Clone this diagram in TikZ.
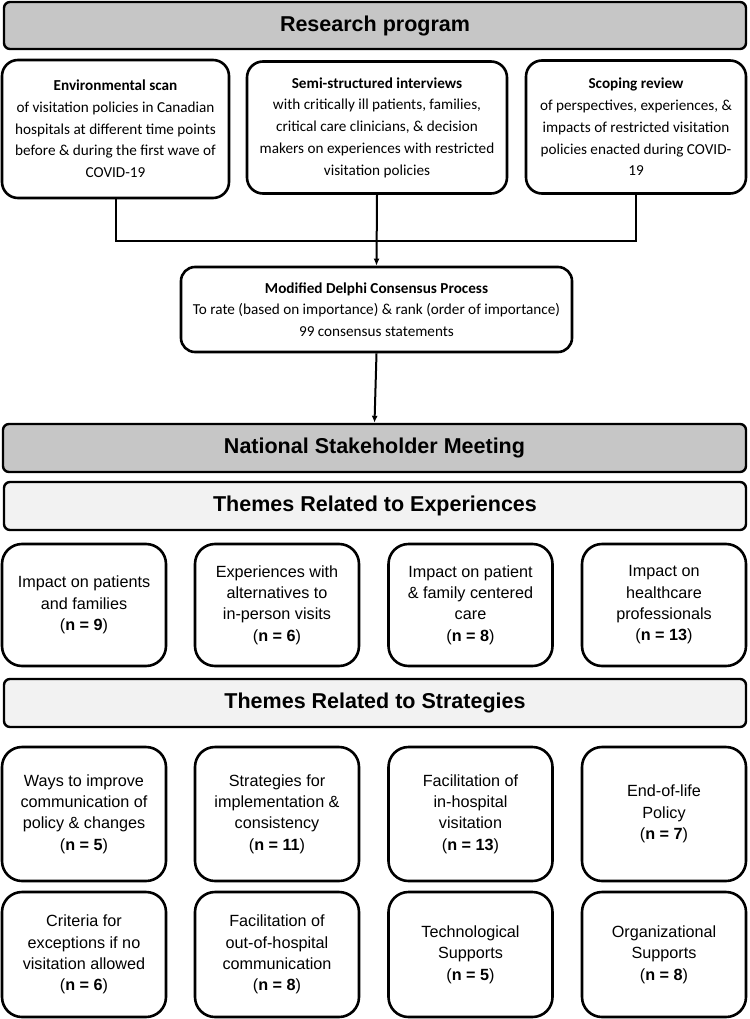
\documentclass[tikz,border=0pt]{standalone}
\usepackage{fontspec}
\setmainfont{Liberation Sans}
\newfontfamily\carlitofont{Carlito}
\usetikzlibrary{arrows.meta}
\definecolor{hdrgray}{RGB}{198,198,198}
\definecolor{lightgray}{RGB}{242,242,242}
\tikzset{
  hdr/.style={draw, line width=2.4pt, rounded corners=6pt, fill=hdrgray, font=\bfseries\fontsize{21.5}{24}\selectfont, inner sep=0pt},
  subhdr/.style={hdr, fill=lightgray},
  topbox/.style={draw, line width=2.6pt, rounded corners=16pt, fill=white, align=center, font=\carlitofont\fontsize{15.2}{21.7}\selectfont, inner sep=0pt},
  theme/.style={draw, line width=2.6pt, rounded corners=20pt, fill=white, align=center, font=\fontsize{16.2}{21.3}\selectfont, inner sep=0pt, minimum width=164pt},
  conn/.style={line width=2pt},
  arr/.style={line width=2pt, -{Latex[length=7pt,width=6pt]}},
}
\newcommand{\nn}[1]{(\textbf{n = #1})}
\begin{document}
\begin{tikzpicture}[x=1pt,y=-1pt]
\useasboundingbox (0,0) rectangle (749,1019);
\node[hdr, minimum width=742pt, minimum height=47pt] (rp) at (375,25.5) {Research program};

\node[topbox, minimum width=227pt, minimum height=138pt] (env) at (115.5,129) {\textbf{Environmental scan}\\of visitation policies in Canadian\\hospitals at different time points\\before \& during the first wave of\\COVID-19};
\node[topbox, minimum width=260pt, minimum height=132pt] (semi) at (377,127.5) {\textbf{Semi-structured interviews}\\with critically ill patients, families,\\critical care clinicians, \& decision\\makers on experiences with restricted\\visitation policies};
\node[topbox, minimum width=220pt, minimum height=133pt] (scop) at (636,127) {\textbf{Scoping review}\\of perspectives, experiences, \&\\impacts of restricted visitation\\policies enacted during COVID-\\19};

\node[topbox, rounded corners=14pt, minimum width=391pt, minimum height=85pt] (delphi) at (376.5,309.5) {\textbf{Modified Delphi Consensus Process}\\To rate (based on importance) \& rank (order of importance)\\99 consensus statements};

\draw[conn] (env.south) -- ++(0,42) -| (scop.south);
\draw[arr] (semi.south) -- (delphi.north);

\node[hdr, minimum width=743pt, minimum height=48pt] (nsm) at (374.5,448) {National Stakeholder Meeting};
\draw[arr] (delphi.south) -- (nsm.north);

\node[subhdr, minimum width=742pt, minimum height=48pt] (texp) at (375,506) {Themes Related to Experiences};

\node[theme, minimum height=122pt] (e1) at (84,605) {Impact on patients\\and families\\\nn{9}};
\node[theme, minimum height=122pt] (e2) at (277,605) {Experiences with\\alternatives to\\in-person visits\\\nn{6}};
\node[theme, minimum height=122pt] (e3) at (470.5,605) {Impact on patient\\\& family centered\\care\\\nn{8}};
\node[theme, minimum height=122pt] (e4) at (664,605) {Impact on\\healthcare\\professionals\\\nn{13}};

\node[subhdr, minimum width=742pt, minimum height=48pt] (tstr) at (375,703) {Themes Related to Strategies};

\node[theme, minimum height=134pt] (s1) at (84,814) {Ways to improve\\communication of\\policy \& changes\\\nn{5}};
\node[theme, minimum height=134pt] (s2) at (277,814) {Strategies for\\implementation \&\\consistency\\\nn{11}};
\node[theme, minimum height=134pt] (s3) at (470.5,814) {Facilitation of\\in-hospital\\visitation\\\nn{13}};
\node[theme, minimum height=134pt] (s4) at (664,814) {End-of-life\\Policy\\\nn{7}};

\node[theme, minimum height=125pt] (s5) at (84,954.5) {Criteria for\\exceptions if no\\visitation allowed\\\nn{6}};
\node[theme, minimum height=125pt] (s6) at (277,954.5) {Facilitation of\\out-of-hospital\\communication\\\nn{8}};
\node[theme, minimum height=125pt] (s7) at (470.5,954.5) {Technological\\Supports\\\nn{5}};
\node[theme, minimum height=125pt] (s8) at (664,954.5) {Organizational\\Supports\\\nn{8}};
\end{tikzpicture}
\end{document}
